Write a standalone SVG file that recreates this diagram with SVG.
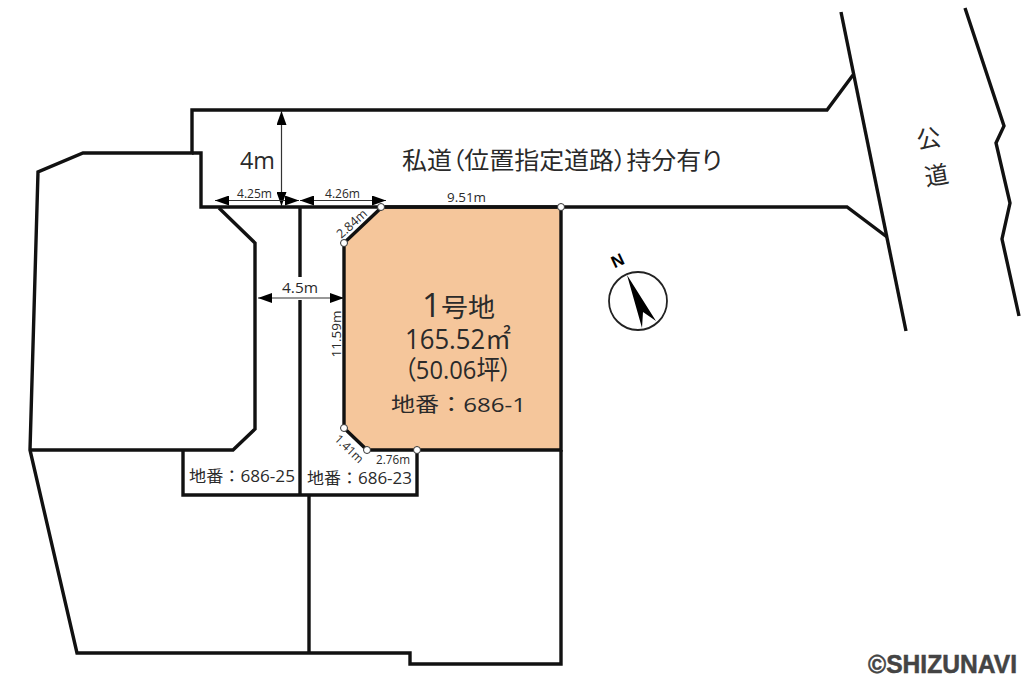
<svg xmlns="http://www.w3.org/2000/svg" width="1024" height="683" viewBox="0 0 1024 683">
<style>
.l{fill:none;stroke:#111;stroke-width:3.400;stroke-linejoin:miter}
.d{fill:none;stroke:#333;stroke-width:1.200}
.a{fill:#000}
.t{font-family:"Open Sans","Noto Sans CJK JP","Noto Sans",sans-serif;fill:#2a2a2a;font-feature-settings:"palt"}
.n{font-feature-settings:normal}
.c{fill:#fff;stroke:#333;stroke-width:1}
</style>
<defs>
<marker id="ah" viewBox="0 0 14 10" refX="14" refY="5" markerWidth="14" markerHeight="10" markerUnits="userSpaceOnUse" orient="auto-start-reverse"><path d="M0 0L14 5L0 10Z" class="a"/></marker>
</defs>
<rect width="1024" height="683" fill="#fff"/>
<g id="lot">
<path d="M382 207H561V450H367L344 428V243Z" fill="#f5c69b"/>
<path d="M382 207H561V450H367L344 428V243Z" class="l"/>
</g>
<g id="boundaries">
<path class="l" d="M841 12L906 331"/>
<path class="l" d="M965 8L1004 126L996 143L1010 203L1002 239L1019 316"/>
<path class="l" d="M853 75L827 110H192V153H83L38 172L30 450L77 653H410V664H561V450"/>
<path class="l" d="M192 153H201V207H847L887 237"/>
<path class="l" d="M219 208L255 243V429L233 450H30"/>
<path class="l" d="M183 450V495H417V450"/>
<path class="l" d="M300 207V277M300 300V495M309 495V653"/>
</g>
<g id="connectors">
<path class="d" d="M281.500 111V206" marker-start="url(#ah)" marker-end="url(#ah)" stroke-width="1.500"/>
<path class="d" d="M215 200.500H299" marker-start="url(#ah)" marker-end="url(#ah)"/>
<path class="d" d="M300 200.500H386" marker-start="url(#ah)" marker-end="url(#ah)"/>
<path class="d" d="M258 298H344" marker-start="url(#ah)" marker-end="url(#ah)"/>
</g>
<g id="points">
<circle class="c" cx="381" cy="207" r="3.500"/><circle class="c" cx="561" cy="207" r="3.500"/>
<circle class="c" cx="344" cy="243" r="3.500"/><circle class="c" cx="344" cy="428" r="3.500"/>
<circle class="c" cx="367" cy="450" r="3.500"/><circle class="c" cx="417" cy="450" r="3.500"/>
</g>
<g id="compass">
<circle cx="638" cy="301" r="29" fill="none" stroke="#222" stroke-width="1.800"/>
<path d="M627 275L656 321L643 312L642 328Z" fill="#000"/>
<text x="620" y="266" font-family="'Liberation Sans',sans-serif" font-size="17" font-weight="700" text-anchor="middle" transform="rotate(-25 620 266)" fill="#000">N</text>
</g>
<g id="labels">
<text class="t" x="240" y="169" font-size="23.400" textLength="35" lengthAdjust="spacingAndGlyphs">4m</text>
<text class="t" x="402" y="169" font-size="23.500" textLength="320" lengthAdjust="spacingAndGlyphs">私道（位置指定道路）持分有り</text>
<text class="t" x="237" y="198" font-size="12.500" textLength="35" lengthAdjust="spacingAndGlyphs">4.25m</text>
<text class="t" x="325" y="198" font-size="12.500" textLength="35" lengthAdjust="spacingAndGlyphs">4.26m</text>
<text class="t" x="447" y="202" font-size="13" textLength="39" lengthAdjust="spacingAndGlyphs">9.51m</text>
<text class="t" x="282" y="293" font-size="14" textLength="36" lengthAdjust="spacingAndGlyphs">4.5m</text>
<text class="t" x="352" y="224" font-size="12.500" text-anchor="middle" transform="rotate(-42 352 224)" dy="4">2.84m</text>
<text class="t" x="341" y="334" font-size="13.500" text-anchor="middle" transform="rotate(-90 341 334)">11.59m</text>
<text class="t" x="349" y="449" font-size="12" text-anchor="middle" transform="rotate(44 349 449)" dy="4">1.41m</text>
<text class="t" x="376" y="464" font-size="12" textLength="34" lengthAdjust="spacingAndGlyphs">2.76m</text>
<text class="t n" x="189" y="482" font-size="16" textLength="106" lengthAdjust="spacingAndGlyphs">地番：686-25</text>
<text class="t n" x="307" y="484" font-size="16" textLength="105" lengthAdjust="spacingAndGlyphs">地番：686-23</text>
<text class="t" x="422" y="317" font-size="26" textLength="73" lengthAdjust="spacingAndGlyphs"><tspan font-size="32">1</tspan>号地</text>
<text class="t" x="405" y="349" font-size="27" textLength="106" lengthAdjust="spacingAndGlyphs">165.52㎡</text>
<text class="t" x="404" y="379" font-size="26" textLength="108" lengthAdjust="spacingAndGlyphs">（50.06坪）</text>
<text class="t n" x="391" y="412" font-size="20" textLength="135" lengthAdjust="spacingAndGlyphs">地番：686-1</text>
<text class="t" x="930" y="147" font-size="24" text-anchor="middle" transform="rotate(-10 930 147)">公</text>
<text class="t" x="938" y="184" font-size="24" text-anchor="middle" transform="rotate(-10 938 184)">道</text>
<text x="868" y="673" font-family="'Liberation Sans',sans-serif" font-weight="700" font-size="25" fill="#444" stroke="#444" stroke-width=".5" textLength="149" lengthAdjust="spacingAndGlyphs">©SHIZUNAVI</text>
</g>
</svg>
